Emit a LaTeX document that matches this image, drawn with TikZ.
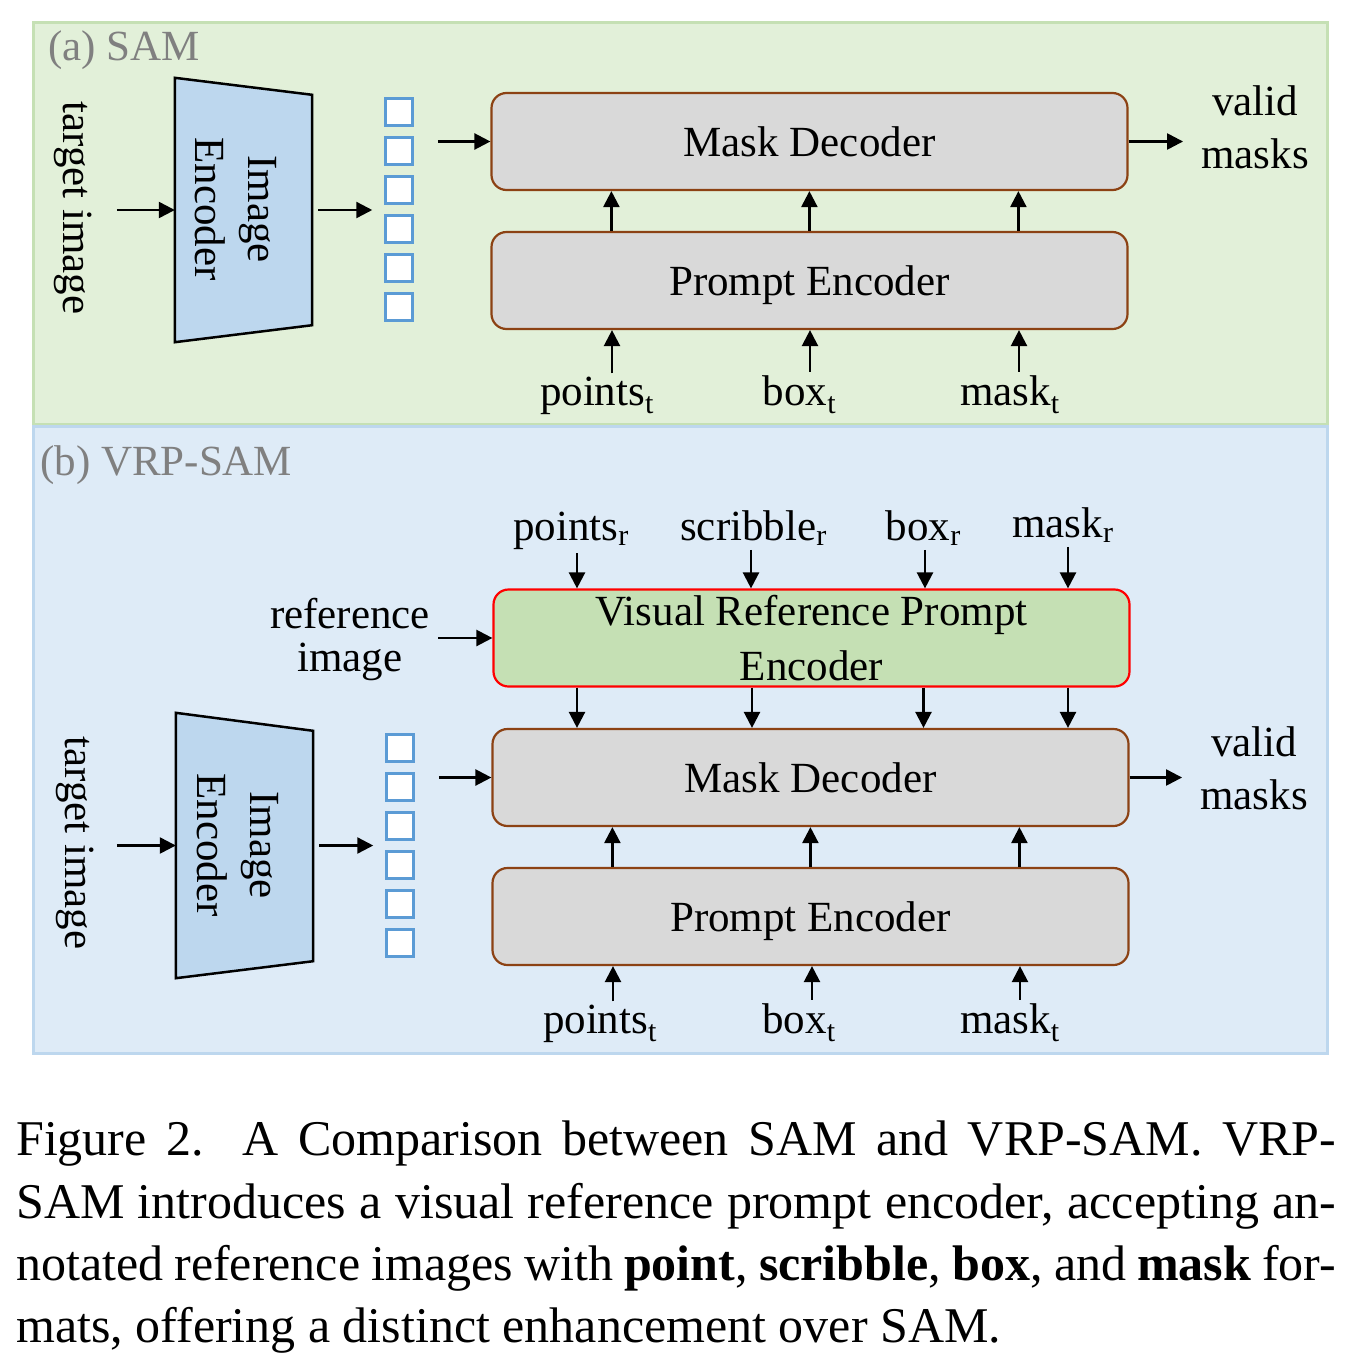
\documentclass[tikz,border=0pt]{standalone}
\usepackage{fontspec}
\setmainfont{Liberation Serif}
\usepackage{tikz}
\usetikzlibrary{arrows.meta,shapes,positioning}
\usepackage{xcolor}
\definecolor{samgreen}{RGB}{226,240,217}
\definecolor{samgreenline}{RGB}{197,224,180}
\definecolor{vrpblue}{RGB}{222,235,247}
\definecolor{vrpblueline}{RGB}{189,215,238}
\definecolor{encblue}{RGB}{189,215,238}
\definecolor{tokblue}{RGB}{91,155,213}
\definecolor{boxgray}{RGB}{217,217,217}
\definecolor{boxbrown}{RGB}{140,66,20}
\definecolor{vrpgreen}{RGB}{197,224,180}
\definecolor{titlegray}{RGB}{128,128,128}
\newcommand{\bigfont}{\fontsize{43}{53}\selectfont}
\tikzstyle{arrow} = [line width=2.4pt,-{Triangle[length=16pt,width=16pt]}]
\tikzstyle{rblock} = [line width=2.2pt, rounded corners=15pt, minimum width=636pt, minimum height=97pt, inner sep=2pt]
\tikzstyle{block} = [rblock, draw=boxbrown, fill=boxgray, font=\bigfont, text height=30pt, text depth=0pt]
\tikzstyle{vrpblock} = [rblock, draw=red, fill=vrpgreen, align=center, font=\fontsize{43}{55}\selectfont]
\tikzstyle{encshape} = [minimum width=137pt, minimum height=264pt, inner sep=0pt]
\tikzstyle{trap} = [draw=black, line width=2.5pt, fill=encblue]
\tikzstyle{tok} = [draw=tokblue, line width=2.5pt, fill=white, minimum size=27pt, inner sep=0pt]
\tikzstyle{lbl} = [font=\bigfont, inner sep=0pt]

\begin{document}
\begin{tikzpicture}[x=1pt, y=-1pt]
\useasboundingbox (0,0) rectangle (1348,1358);

% Panel backgrounds
\draw[fill=samgreen, draw=samgreenline, line width=3pt] (33,22) rectangle (1327,424);
\draw[fill=vrpblue, draw=vrpblueline, line width=3pt] (33,426) rectangle (1327,1053);

% (a) SAM
\node[lbl, text=titlegray, anchor=base west] (titleA) at (48,60) {(a) SAM};
\node[lbl, rotate=-90, anchor=base] (tgtA) at (63,208) {target image};

\node[encshape] (encA) at (243.5,210) {};
\draw[trap] (encA.north west) -- ([yshift=-17pt]encA.north east) -- ([yshift=17pt]encA.south east) -- (encA.south west) -- cycle;
\node[lbl, rotate=-90, align=center] (encTxtA) at (236,209) {Image\\Encoder};

\foreach \i in {1,...,6}
  \node[tok] (tA\i) at (399,{112+39*(\i-1)}) {};

\node[block] (mdA) at (809.5,141.5) {Mask Decoder};
\node[block] (peA) at (809.5,280.5) {Prompt Encoder};

\node[lbl, anchor=base] (ptsA) at (597,405) {points\textsubscript{t}};
\node[lbl, anchor=base] (boxA) at (799.5,405) {box\textsubscript{t}};
\node[lbl, anchor=base] (maskA) at (1010,405) {mask\textsubscript{t}};
\node[lbl, align=center] (validA) at (1255,127) {valid\\masks};

\draw[arrow] ([xshift=-58pt]encA.west) -- (encA.west);
\draw[arrow] ([xshift=6pt]encA.east) -- ([xshift=-12pt]encA.east -| tA1.west);
\draw[arrow] ([xshift=24pt]tA2.east |- mdA.west) -- (mdA.west);
\draw[arrow] (mdA.east) -- ([xshift=-18pt]validA.west |- mdA.east);
\foreach \dx in {121,319,528}
  \draw[arrow] ([xshift=\dx pt]peA.north west) -- ([xshift=\dx pt]mdA.south west);
\draw[arrow] ([xshift=15pt,yshift=3pt]ptsA.north) -- ([xshift=15pt]ptsA.north |- peA.south);
\draw[arrow] ([xshift=10.5pt,yshift=3pt]boxA.north) -- ([xshift=10.5pt]boxA.north |- peA.south);
\draw[arrow] ([xshift=9pt,yshift=3pt]maskA.north) -- ([xshift=9pt]maskA.north |- peA.south);

% (b) VRP-SAM
\node[lbl, text=titlegray, anchor=base west] (titleB) at (40,475) {(b) VRP-SAM};

\node[lbl, anchor=base] (ptsR) at (571,540) {points\textsubscript{r}};
\node[lbl, anchor=base] (scribR) at (753.5,540) {scribble\textsubscript{r}};
\node[lbl, anchor=base] (boxR) at (923.5,540) {box\textsubscript{r}};
\node[lbl, anchor=base] (maskR) at (1063,537) {mask\textsubscript{r}};

\node[vrpblock] (vrp) at (811.5,638) {Visual Reference Prompt\\Encoder};
\node[lbl, align=center, font=\fontsize{43}{43}\selectfont] (refimg) at (350,639.5) {reference\\image};

\node[lbl, rotate=-90, anchor=base] (tgtB) at (65,843) {target image};
\node[encshape, minimum height=265pt] (encB) at (244.5,845.5) {};
\draw[trap] (encB.north west) -- ([yshift=-18pt]encB.north east) -- ([yshift=17pt]encB.south east) -- (encB.south west) -- cycle;
\node[lbl, rotate=-90, align=center] (encTxtB) at (238,845) {Image\\Encoder};

\foreach \i in {1,...,6}
  \node[tok] (tB\i) at (400,{748+39*(\i-1)}) {};

\node[block] (mdB) at (810.5,777.5) {Mask Decoder};
\node[block] (peB) at (810.5,916.5) {Prompt Encoder};

\node[lbl, anchor=base] (ptsB) at (600,1033) {points\textsubscript{t}};
\node[lbl, anchor=base] (boxB) at (799,1033) {box\textsubscript{t}};
\node[lbl, anchor=base] (maskB) at (1010,1033) {mask\textsubscript{t}};
\node[lbl, align=center] (validB) at (1254,768) {valid\\masks};

\draw[arrow] ([xshift=6pt,yshift=-4pt]ptsR.south) -- ([xshift=6pt]ptsR.south |- vrp.north);
\draw[arrow] ([xshift=-2.5pt,yshift=-4pt]scribR.south) -- ([xshift=-2.5pt]scribR.south |- vrp.north);
\draw[arrow] ([xshift=1.5pt,yshift=-4pt]boxR.south) -- ([xshift=1.5pt]boxR.south |- vrp.north);
\draw[arrow] ([xshift=5pt,yshift=-4pt]maskR.south) -- ([xshift=5pt]maskR.south |- vrp.north);
\draw[arrow] ([xshift=6pt]ptsR.south |- vrp.south) -- ([xshift=6pt]ptsR.south |- mdB.north);
\draw[arrow] ([xshift=-1.5pt]scribR.south |- vrp.south) -- ([xshift=-1.5pt]scribR.south |- mdB.north);
\draw[arrow] ([xshift=0pt]boxR.south |- vrp.south) -- ([xshift=0pt]boxR.south |- mdB.north);
\draw[arrow] ([xshift=5pt]maskR.south |- vrp.south) -- ([xshift=5pt]maskR.south |- mdB.north);
\draw[arrow] ([xshift=8pt]refimg.east |- vrp.west) -- (vrp.west);

\draw[arrow] ([xshift=-59pt]encB.west) -- (encB.west);
\draw[arrow] ([xshift=6pt]encB.east) -- ([xshift=-12pt]encB.east -| tB1.west);
\draw[arrow] ([xshift=24pt]tB2.east |- mdB.west) -- (mdB.west);
\draw[arrow] (mdB.east) -- ([xshift=-18pt]validB.west |- mdB.east);
\foreach \dx in {121,319,528}
  \draw[arrow] ([xshift=\dx pt]peB.north west) -- ([xshift=\dx pt]mdB.south west);
\draw[arrow] ([xshift=13pt,yshift=3pt]ptsB.north) -- ([xshift=13pt]ptsB.north |- peB.south);
\draw[arrow] ([xshift=13pt,yshift=3pt]boxB.north) -- ([xshift=13pt]boxB.north |- peB.south);
\draw[arrow] ([xshift=10pt,yshift=3pt]maskB.north) -- ([xshift=10pt]maskB.north |- peB.south);

% Caption
\node[anchor=north west, text width=1320pt, align=justify, inner sep=0pt, font=\fontsize{50}{62.2}\selectfont] (caption) at (16,1121)
  {Figure 2.\ \ A Comparison between SAM and VRP-SAM. VRP-\linebreak SAM introduces a visual reference prompt encoder, accepting an-\linebreak notated reference images with \textbf{point}, \textbf{scribble}, \textbf{box}, and \textbf{mask} for-\linebreak mats, offering a distinct enhancement over SAM.};
\end{tikzpicture}
\end{document}
